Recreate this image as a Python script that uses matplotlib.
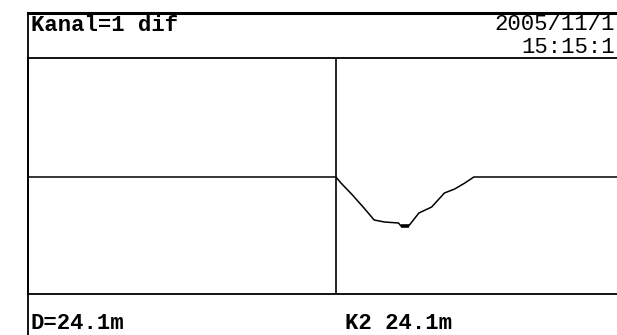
import matplotlib
matplotlib.use("Agg")
import matplotlib.pyplot as plt
from matplotlib.lines import Line2D

# reflectogram trace (distance in m, level in arbitrary units)
dist = [0.0, 24.1, 24.5, 25.4, 26.3, 27.1, 27.9, 29.0, 29.2, 29.8, 30.6,
        31.6, 32.6, 33.4, 34.2, 34.9, 46.5]
level = [0, 0, -6, -18, -31, -43, -45, -46, -49, -49, -36,
         -30, -16, -12, -6, 0, 0]
cursor = 24.1
k2 = 24.1
header_left = "Kanal=1 dif"
header_date = "2005/11/1"
header_time = "15:15:1"

W, H = 617, 335
fig = plt.figure(figsize=(W / 100, H / 100), dpi=100)
fig.patch.set_facecolor("white")

def fx(px):
    return px / W

def fy(py):
    return 1 - py / H

ax = fig.add_axes([fx(28), fy(294), fx(622) - fx(28), fy(58) - fy(294)])
ax.plot(dist, level, color="black", lw=1.1, solid_joinstyle="miter")
# thicker marker at the bottom of the dip
ax.plot(dist[8:10], level[8:10], color="black", lw=2.6, solid_capstyle="butt")
ax.axvline(cursor, color="black", lw=1.2)
ax.set_xlim(0, 46.5)
ax.set_ylim(-117, 119)
ax.set_xticks([])
ax.set_yticks([])
for s in ["left", "top", "bottom"]:
    ax.spines[s].set_linewidth(1.3)
ax.spines["right"].set_visible(False)

# header frame
fig.add_artist(Line2D([fx(28), fx(620)], [fy(13), fy(13)], color="black", lw=2.2))
fig.add_artist(Line2D([fx(28), fx(28)], [fy(13), fy(340)], color="black", lw=1.3))

mono = "Liberation Mono"
fig.text(fx(31), fy(31), header_left, family=mono, weight="bold",
         fontsize=16, va="baseline", ha="left")
fig.text(fx(615), fy(30), header_date, family=mono, fontsize=16,
         va="baseline", ha="right")
fig.text(fx(615), fy(53), header_time, family=mono, fontsize=16,
         va="baseline", ha="right")

fig.text(fx(31), fy(329), "D=%.1fm" % cursor, family=mono, weight="bold",
         fontsize=16, va="baseline", ha="left")
fig.text(fx(345), fy(329), "K2 %.1fm" % k2, family=mono, weight="bold",
         fontsize=16, va="baseline", ha="left")

fig.savefig("out.png", dpi=100, facecolor="white")
